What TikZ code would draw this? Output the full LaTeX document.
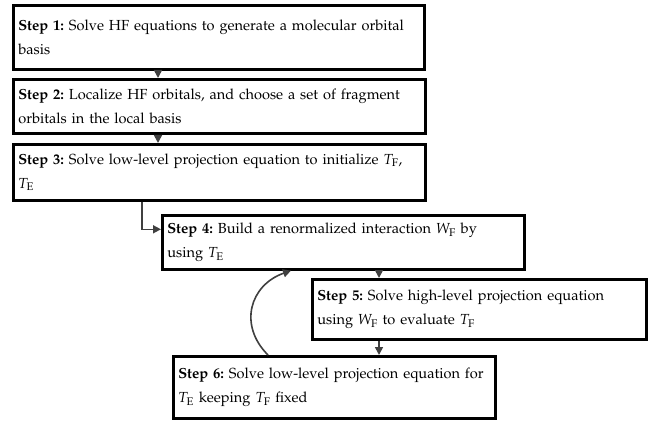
\documentclass[tikz,border=0pt]{standalone}
\usepackage[T1]{fontenc}
\usepackage{mathpazo}
\usetikzlibrary{arrows.meta}
\tikzset{
  stepbox/.style={draw=black, line width=2.6pt, anchor=north west, align=left,
    inner xsep=5pt, inner ysep=0pt, font=\fontsize{14.6}{24}\selectfont\frenchspacing},
  arr/.style={draw=black!75, line width=1.6pt, -{Triangle[length=8pt,width=8pt]}}
}
\newcommand{\TE}{$T_{\mathrm{E}}$}
\newcommand{\TF}{$T_{\mathrm{F}}$}
\newcommand{\WF}{$W_{\mathrm{F}}$}
\begin{document}
\begin{tikzpicture}[x=1pt,y=-1pt]
\useasboundingbox (0,0) rectangle (655,422);
\node[stepbox, text width=401pt, minimum height=64pt] (s1) at (12,4)
  {\textbf{Step 1:} Solve HF equations to generate a molecular orbital\\ basis};
\node[stepbox, text width=402pt, minimum height=54pt] (s2) at (12,78)
  {\textbf{Step 2:} Localize HF orbitals, and choose a set of fragment\\ orbitals in the local basis};
\node[stepbox, text width=402pt, minimum height=56pt] (s3) at (12,143)
  {\textbf{Step 3:} Solve low-level projection equation to initialize \TF,\\ \TE};
\node[stepbox, text width=352pt, minimum height=54pt] (s4) at (161,214)
  {\textbf{Step 4:} Build a renormalized interaction \WF{} by\\ using \TE};
\node[stepbox, text width=324pt, minimum height=60pt] (s5) at (311,278)
  {\textbf{Step 5:} Solve high-level projection equation\\ using \WF{} to evaluate \TF};
\node[stepbox, text width=312pt, minimum height=62pt] (s6) at (172,355)
  {\textbf{Step 6:} Solve low-level projection equation for\\ \TE{} keeping \TF{} fixed};
\draw[arr] ([xshift=146pt]s1.south west) -- ([xshift=146pt]s1.south west |- s2.north);
\draw[arr] ([xshift=146pt]s2.south west) -- ([xshift=146pt]s2.south west |- s3.north);
\draw[arr] ([xshift=130pt]s3.south west) |- ([yshift=13pt]s4.west);
\draw[arr] ([xshift=218pt]s4.south west) -- ([xshift=218pt]s4.south west |- s5.north);
\draw[arr] ([xshift=68pt]s5.south west) -- ([xshift=68pt]s5.south west |- s6.north);
\coordinate (c6) at ([xshift=96pt]s6.north west);
\coordinate (c4) at ([xshift=130pt]s4.south west);
\draw[arr] (c6) .. controls (238,325) and (250,285) .. (c4);
\end{tikzpicture}
\end{document}
